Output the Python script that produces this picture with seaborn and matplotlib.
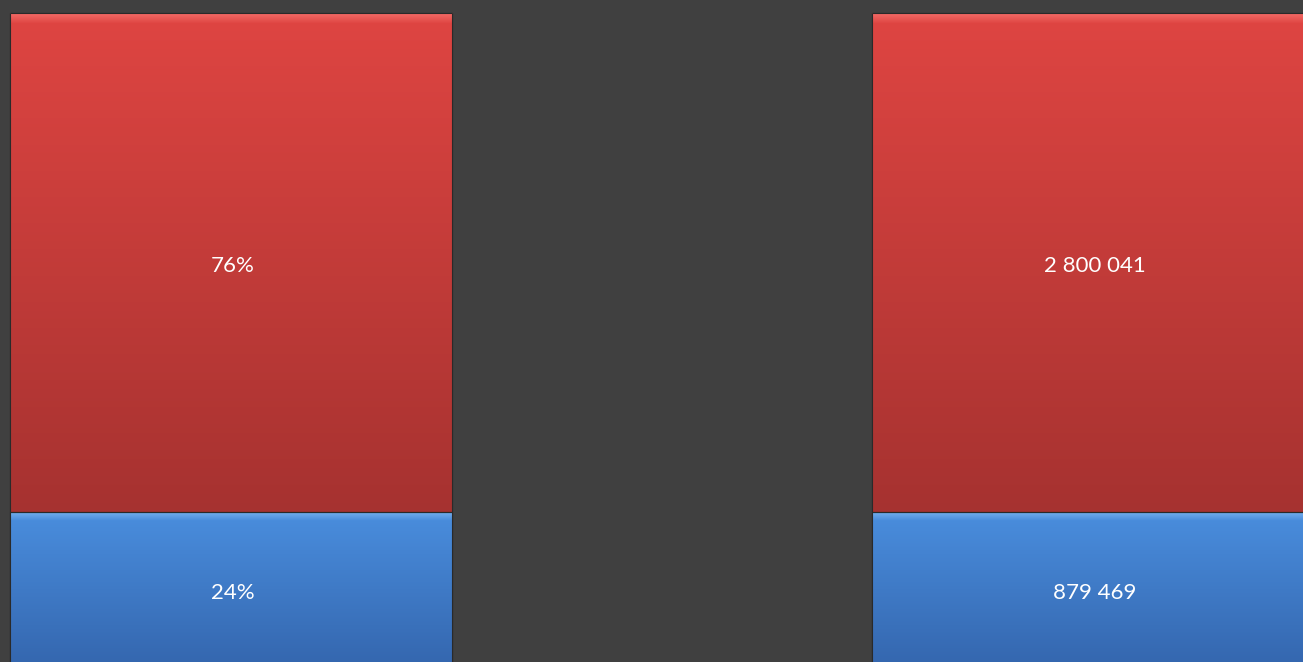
import numpy as np
import pandas as pd
import seaborn as sns
import matplotlib.pyplot as plt
from matplotlib.colors import to_rgb

# values
bars = ['share', 'count']
segments = ['blue', 'red']
counts = [879469, 2800041]
share_labels = ['24%', '76%']
count_labels = ['879 469', '2 800 041']

total = sum(counts)
blue_share = counts[0] / total

df = pd.DataFrame({
    'bar': bars,
    'total': [1.0, 1.0],
    'blue': [blue_share, blue_share],
})

bg = '#404040'
sns.set_theme(style='white')
plt.rcParams['font.family'] = ['Lato', 'DejaVu Sans']

fig = plt.figure(figsize=(13.03, 6.62), dpi=100, facecolor=bg)
ax = fig.add_axes([0, 0, 1, 1])
ax.set_facecolor(bg)

# red = full height, blue drawn on top of it
sns.barplot(data=df, x='bar', y='total', color='#d84340', width=0.513,
            saturation=1, ax=ax, edgecolor='#3a2020', linewidth=0.8)
sns.barplot(data=df, x='bar', y='blue', color='#3f7dcc', width=0.513,
            saturation=1, ax=ax, edgecolor='#23344f', linewidth=0.8)

ax.set_xlim(-0.268, 1.2436)
ax.set_ylim(0.0096, 1.0198)
ax.axis('off')


def grad(top_hi, top, bottom, n=400, hi_frac=0.02):
    t = np.linspace(0, 1, n)[:, None]
    top, bottom, top_hi = map(np.array, (to_rgb(top), to_rgb(bottom), to_rgb(top_hi)))
    arr = top + (bottom - top) * t
    w = np.clip(1 - t / hi_frac, 0, 1)
    arr = arr * (1 - w) + top_hi * w
    return arr[:, None, :]


red_img = grad('#f26a66', '#df4542', '#a63230', hi_frac=0.02)
blue_img = grad('#78b2ef', '#4a8ede', '#3466ae', hi_frac=0.06)

patches = list(ax.patches)
for p in patches:
    x0, y0 = p.get_x(), p.get_y()
    w, h = p.get_width(), p.get_height()
    img = red_img if h > 0.9 else blue_img
    if h > 0.9:
        ext = (x0, x0 + w, blue_share, y0 + h)
    else:
        ext = (x0, x0 + w, y0, y0 + h)
    im = ax.imshow(img, extent=ext, aspect='auto', zorder=p.get_zorder() + 0.5,
                   interpolation='bilinear')
    im.set_clip_path(p)
    # keep the thin dark outline on top
    ax.add_patch(plt.Rectangle((x0, ext[2]), w, ext[3] - ext[2], fill=False,
                               edgecolor='#2a2a2a', linewidth=0.8,
                               zorder=p.get_zorder() + 1))

red_mid = (blue_share + 1) / 2
blue_mid = blue_share / 2
for i, labels in enumerate([share_labels, count_labels]):
    for lab, ymid in [(labels[0], blue_mid), (labels[1], red_mid)]:
        ax.annotate(lab, (i, ymid), xytext=(1, -2.5), textcoords='offset points',
                    color='white', fontsize=16, ha='center', va='center', zorder=10)

fig.savefig('out.png', dpi=100, facecolor=bg)
